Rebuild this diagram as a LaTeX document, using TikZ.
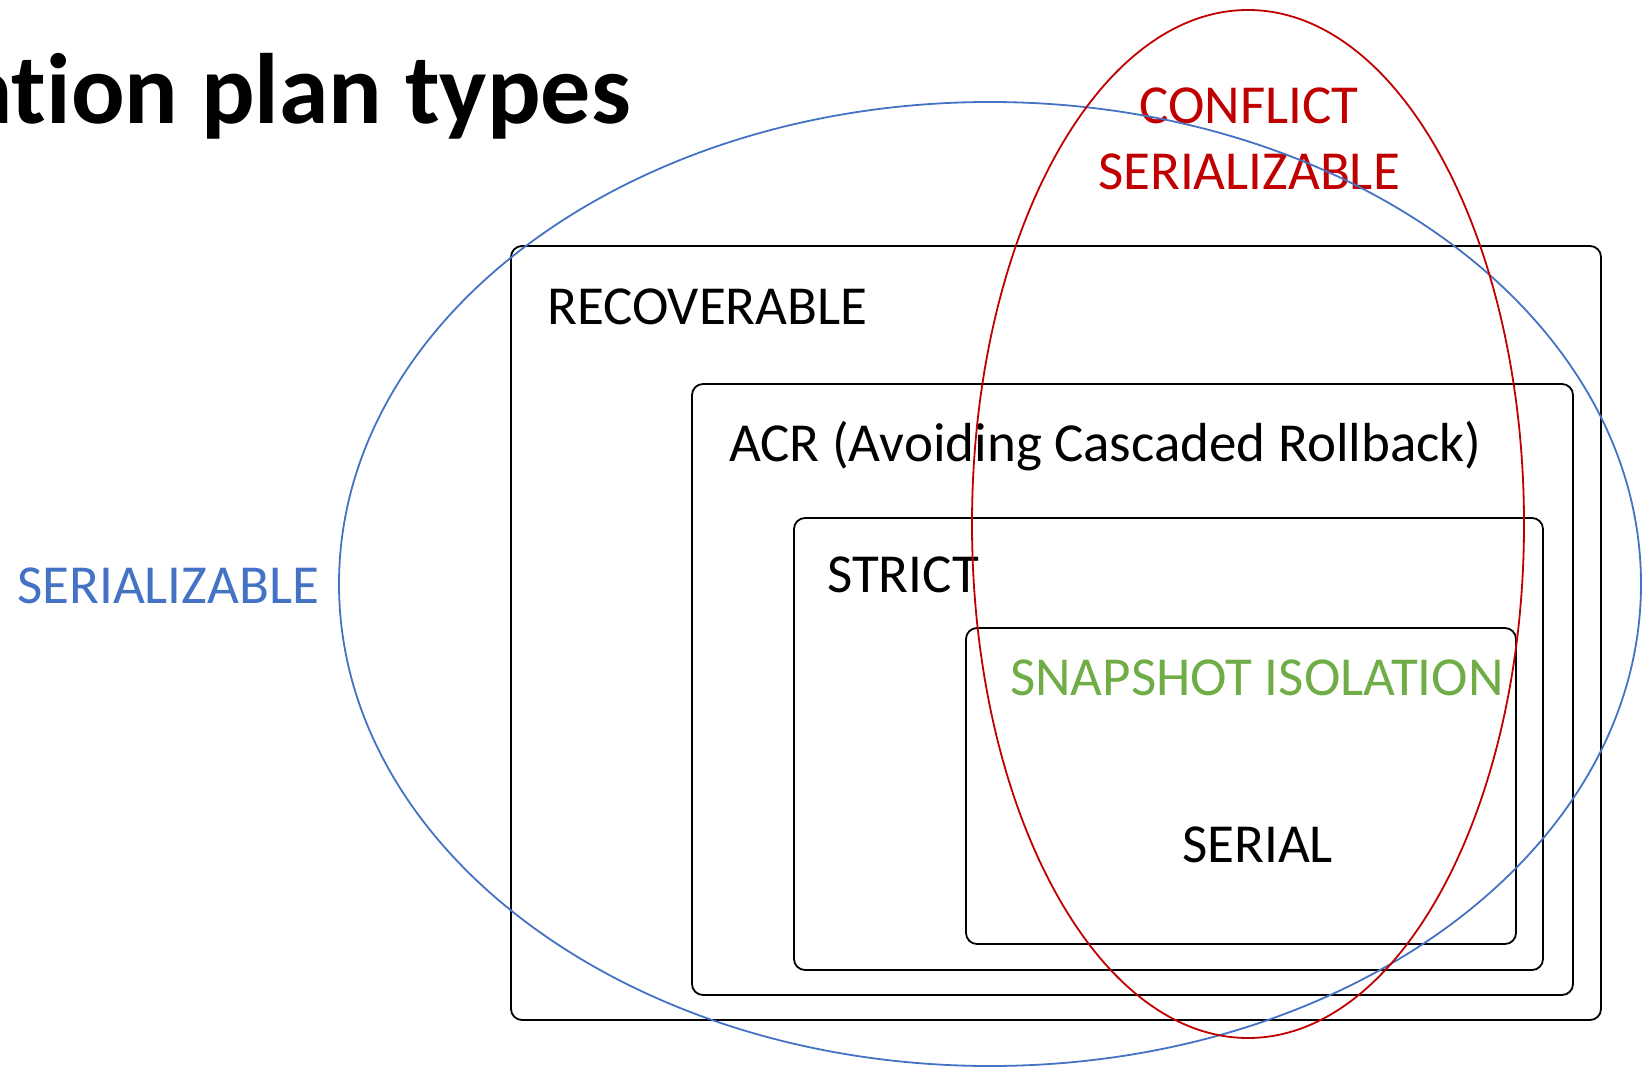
\documentclass[tikz,border=0pt]{standalone}
\usepackage{fontspec}
\setmainfont{Carlito}[Ligatures={NoCommon}]
\usepackage{xcolor}
\usepackage{tikz}
\usetikzlibrary{positioning}

\definecolor{serblue}{HTML}{4472C4}
\definecolor{confred}{HTML}{C00000}
\definecolor{snapgreen}{HTML}{70AD47}

\tikzset{
  setbox/.style={draw=black, line width=1.8pt, rounded corners=11pt},
  setname/.style={inner sep=0pt, anchor=base west, font=\fontsize{55}{60}\selectfont},
  setring/.style={line width=1.8pt},
}

\begin{document}
\begin{tikzpicture}[x=1pt,y=-1pt]
\useasboundingbox (0,0) rectangle (1644,1067);

\node[anchor=base east, inner sep=0pt, font=\bfseries\fontsize{100}{110}\selectfont] (title) at (631,124) {ation plan types};

% nested schedule classes
\draw[setbox] (511,246) rectangle (1601,1020);
\draw[setbox] (692,384) rectangle (1573,995);
\draw[setbox] (794,518) rectangle (1543,970);
\draw[setbox] (966,628) rectangle (1516,944);

\node[setname] (rec) at (547,325) {RECOVERABLE};
\node[setname] (acr) at (729,461) {ACR (Avoiding Cascaded Rollback)};
\node[setname] (strict) at (827,592) {STRICT};
\node[setname, text=snapgreen] (snap) at (1010,695) {SNAPSHOT ISOLATION};
\node[setname] (serial) at (1182,862) {SERIAL};

\node[setname, text=serblue] (ser) at (17,603) {SERIALIZABLE};
\node[setname, text=confred, anchor=base] (conf) at (1249,124) {CONFLICT};
\node[setname, text=confred, anchor=base] (conf2) at (1249,190) {SERIALIZABLE};

% the two overlapping sets
\draw[setring, serblue] (990,584) ellipse [x radius=651, y radius=482];
\draw[setring, confred] (1248,524) ellipse [x radius=276, y radius=514];
\end{tikzpicture}
\end{document}
